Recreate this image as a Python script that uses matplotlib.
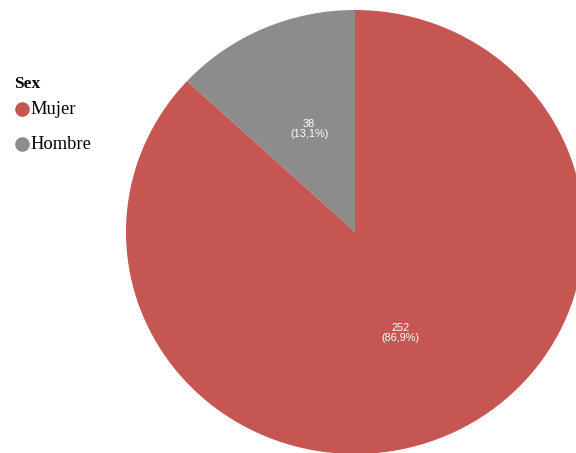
import numpy as np
import matplotlib.pyplot as plt

# data
categories = ['Mujer', 'Hombre']
counts = [252, 38]
colors = {'Mujer': '#C55652', 'Hombre': '#8C8C8C'}
legend_title = 'Sex'

total = sum(counts)
W, H = 576, 453

fig = plt.figure(figsize=(W / 100, H / 100), dpi=100)
# pie is slightly wider than tall in the reference
ax = fig.add_axes([126 / W, (H - 454) / H, 458 / W, 444 / H])

# Hombre drawn first so it sits just left of 12 o'clock
order = [1, 0]
vals = [counts[i] for i in order]
cols = [colors[categories[i]] for i in order]
ax.pie(vals, colors=cols, startangle=90, counterclock=True,
       radius=1, wedgeprops={'linewidth': 0})

ang = 90
for v in vals:
    span = 360 * v / total
    mid = np.deg2rad(ang + span / 2)
    r = 0.5
    ax.text(r * np.cos(mid), r * np.sin(mid) + 0.005,
            '%d\n(%s%%)' % (v, ('%.1f' % (100 * v / total)).replace('.', ',')),
            ha='center', va='center', color='white', fontsize=7.8,
            family='Liberation Sans', linespacing=1.0)
    ang += span

ax.set_xlim(-1, 1)
ax.set_ylim(-1, 1)
ax.set_aspect('auto')
ax.axis('off')

# legend drawn by hand
def fx(px):
    return px / W

def fy(py):
    return 1 - py / H

fig.text(fx(14), fy(84), legend_title, ha='left', va='center',
         family='Liberation Serif', fontsize=12.5, fontweight='bold')
for i, c in enumerate(categories):
    y = 109 + 35 * i
    fig.add_artist(plt.Line2D([fx(22)], [fy(y)], marker='o', markersize=10.5,
                              markerfacecolor=colors[c], markeredgewidth=0,
                              linestyle='none'))
    fig.text(fx(30.5), fy(y), c, ha='left', va='center',
             family='Liberation Serif', fontsize=13.3)

fig.savefig('out.png', dpi=100)
